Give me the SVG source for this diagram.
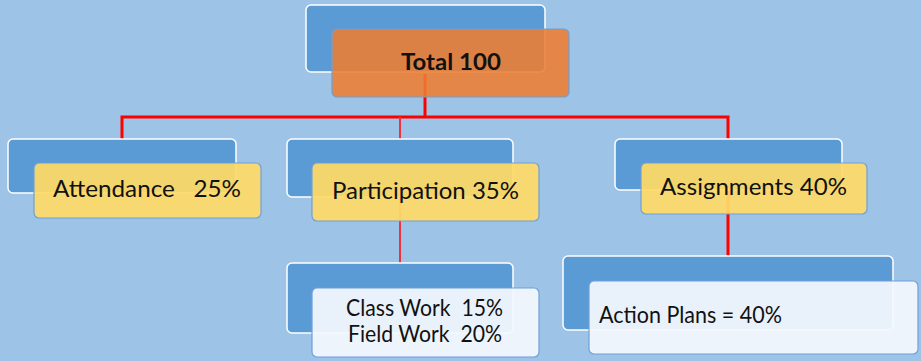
<svg xmlns="http://www.w3.org/2000/svg" width="921" height="361" viewBox="0 0 921 361">
<style>
.back{fill:#5B9BD5;stroke:#FFFFFF;stroke-width:1.5}
.top{fill:#ED7D31;fill-opacity:0.88;stroke:#6FA0D8;stroke-width:1.2}
.mid{fill:#FFD966;fill-opacity:0.93;stroke:#6FA0D8;stroke-width:1.2}
.leaf{fill:#F4F8FD;fill-opacity:0.93;stroke:#6FA0D8;stroke-width:1.2}
.t{font-family:Lato,"Liberation Sans",sans-serif;font-size:23px;fill:#111111}
.tb{font-family:Lato,"Liberation Sans",sans-serif;font-size:23px;font-weight:bold;fill:#111111}
.c{fill:none;stroke:#FF0000;stroke-width:3}
.c2{fill:none;stroke:#F0303A;stroke-width:2}
</style>
<rect x="0" y="0" width="921" height="361" fill="#9DC3E6"/>
<g id="connectors">
<path class="c" d="M425 74V117M122 139V117H728V256"/>
<path class="c2" d="M400 117V263"/>
</g>
<g id="total">
<rect class="back" x="306" y="5" width="239" height="67" rx="5"/>
<rect class="top" x="332" y="29" width="237" height="68" rx="5"/>
<text class="tb" x="401" y="70" textLength="100" lengthAdjust="spacingAndGlyphs">Total 100</text>
</g>
<g id="attendance">
<rect class="back" x="8" y="139" width="228" height="54" rx="5"/>
<rect class="mid" x="34" y="163" width="227" height="55" rx="5"/>
<text class="t" x="53" y="197" textLength="188" lengthAdjust="spacingAndGlyphs" xml:space="preserve">Attendance   25%</text>
</g>
<g id="participation">
<rect class="back" x="287" y="139" width="226" height="58" rx="5"/>
<rect class="mid" x="312" y="163" width="227" height="58" rx="5"/>
<text class="t" x="332" y="199" textLength="187" lengthAdjust="spacingAndGlyphs">Participation 35%</text>
</g>
<g id="assignments">
<rect class="back" x="615" y="139" width="227" height="51" rx="5"/>
<rect class="mid" x="641" y="163" width="226" height="51" rx="5"/>
<text class="t" x="660" y="195" textLength="187" lengthAdjust="spacingAndGlyphs">Assignments 40%</text>
</g>
<g id="classwork">
<rect class="back" x="287" y="263" width="226" height="70" rx="5"/>
<rect class="leaf" x="312" y="288" width="227" height="69" rx="5"/>
<text class="t" x="346" y="316" textLength="157" lengthAdjust="spacingAndGlyphs" xml:space="preserve">Class Work  15%</text>
<text class="t" x="348" y="342" textLength="154" lengthAdjust="spacingAndGlyphs" xml:space="preserve">Field Work  20%</text>
</g>
<g id="actionplans">
<rect class="back" x="563" y="256" width="330" height="74" rx="5"/>
<rect class="leaf" x="589" y="281" width="329" height="73" rx="5"/>
<text class="t" x="599" y="323" textLength="183" lengthAdjust="spacingAndGlyphs">Action Plans = 40%</text>
</g>
</svg>
